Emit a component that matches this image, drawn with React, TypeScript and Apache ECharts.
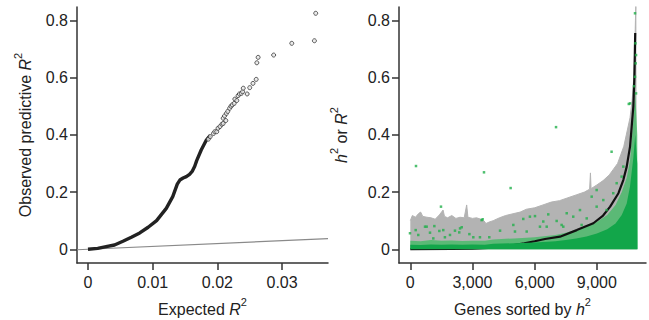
import React, { useEffect, useRef } from "react";
import * as echarts from "echarts";

// ---------- Left panel: QQ-style plot ----------
const leftXTicks = [0, 0.01, 0.02, 0.03];
const leftYTicks = [0, 0.2, 0.4, 0.6, 0.8];
// dense part of the observed curve (overlapping circles)
const denseX = [0, 0.0015, 0.0028, 0.0041, 0.0054, 0.0067, 0.008, 0.0093, 0.0106, 0.0121, 0.0131, 0.0138, 0.0142, 0.0147, 0.0152, 0.0157, 0.0161, 0.0165, 0.0168, 0.0175, 0.0183, 0.0189];
const denseY = [0, 0.003, 0.009, 0.015, 0.028, 0.042, 0.057, 0.077, 0.1, 0.143, 0.184, 0.228, 0.242, 0.249, 0.254, 0.262, 0.272, 0.29, 0.31, 0.347, 0.382, 0.398];
// sparse open circles in the upper tail
const circX = [0.0186, 0.0189, 0.0194, 0.0196, 0.0199, 0.0201, 0.0204, 0.0207, 0.0209, 0.0209, 0.0211, 0.0213, 0.0214, 0.0216, 0.0219, 0.0221, 0.0223, 0.0226, 0.0227, 0.023, 0.0232, 0.0234, 0.0237, 0.0239, 0.024, 0.0246, 0.025, 0.0255, 0.026, 0.0261, 0.0263, 0.0287, 0.0315, 0.035, 0.0352];
const circY = [0.385, 0.394, 0.405, 0.411, 0.411, 0.423, 0.429, 0.437, 0.44, 0.458, 0.466, 0.45, 0.475, 0.482, 0.493, 0.5, 0.505, 0.51, 0.525, 0.52, 0.537, 0.543, 0.545, 0.551, 0.563, 0.543, 0.565, 0.58, 0.594, 0.652, 0.671, 0.679, 0.72, 0.729, 0.825];
const diagX = [-0.0017, 0.0371];

// ---------- Right panel: genes sorted by h2 ----------
const rightXTicks = [0, 3000, 6000, 9000];
const rightYTicks = [0, 0.2, 0.4, 0.6, 0.8];
// upper edge of the grey interval bars
const grayGenes = [0, 100, 250, 400, 500, 600, 800, 1000, 1200, 1400, 1580, 1650, 1800, 2000, 2200, 2400, 2600, 2720, 2780, 3000, 3200, 3400, 3550, 3650, 3800, 4000, 4300, 4600, 5000, 5300, 5600, 6000, 6400, 6800, 7200, 7600, 8000, 8400, 8650, 8690, 8720, 9000, 9300, 9600, 9800, 10000, 10150, 10300, 10450, 10600, 10700, 10780, 10830, 10860, 10880, 10900];
const grayHi = [0.1, 0.118, 0.112, 0.125, 0.13, 0.115, 0.112, 0.11, 0.105, 0.12, 0.137, 0.115, 0.11, 0.118, 0.108, 0.112, 0.11, 0.155, 0.112, 0.108, 0.11, 0.105, 0.1, 0.09, 0.095, 0.1, 0.11, 0.118, 0.125, 0.13, 0.14, 0.145, 0.155, 0.165, 0.17, 0.18, 0.19, 0.2, 0.21, 0.267, 0.212, 0.225, 0.24, 0.26, 0.28, 0.3, 0.33, 0.36, 0.41, 0.46, 0.52, 0.6, 0.7, 0.8, 0.85, 0];
// upper edge of the solid green R2 band
const greenGenes = [0, 500, 1000, 1500, 2000, 2500, 3000, 3600, 4000, 5000, 6000, 7000, 7500, 8000, 8500, 9000, 9500, 9900, 10200, 10440, 10600, 10760, 10850, 10950, 10960];
const greenTop = [0.016, 0.015, 0.017, 0.016, 0.017, 0.016, 0.017, 0.016, 0.019, 0.021, 0.024, 0.028, 0.032, 0.038, 0.045, 0.055, 0.07, 0.09, 0.12, 0.16, 0.22, 0.32, 0.4, 0.3, 0];
// upper edge of the speckled green cloud
const cloudTop = [0.03, 0.028, 0.032, 0.03, 0.031, 0.029, 0.03, 0.03, 0.034, 0.038, 0.042, 0.05, 0.058, 0.068, 0.08, 0.095, 0.12, 0.155, 0.2, 0.25, 0.31, 0.45, 0.55, 0.4, 0];
// scattered individual green points
const greenPtGenes = [275, 3555, 4840, 1480, 7030, 9710, 10540, -15, 260, 710, 1160, 1400, 1590, 2155, 2480, 2360, 2850, 3360, 3440, 385, 950, 1670, 1915, 3040, 1110, 790, 2400, 3490, 5450, 5770, 6015, 6655, 6415, 7060, 4970, 4330, 5050, 6255, 6580, 7300, 3810, 5615, 8990, 8750, 9310, 9955, 10195, 10275, 9790, 8185, 7860, 7545, 8990, 8510, 9470, 7380, 8265, 10840, 10890, 10840, 10600, 10890, 10790, 10870, 10860];
const greenPtVals = [0.291, 0.269, 0.214, 0.149, 0.427, 0.341, 0.508, 0.056, 0.067, 0.079, 0.081, 0.064, 0.067, 0.065, 0.077, 0.059, 0.053, 0.042, 0.102, 0.05, 0.058, 0.042, 0.05, 0.042, 0.038, 0.079, 0.073, 0.105, 0.106, 0.114, 0.116, 0.122, 0.097, 0.099, 0.085, 0.065, 0.062, 0.079, 0.079, 0.085, 0.042, 0.062, 0.207, 0.184, 0.172, 0.231, 0.254, 0.289, 0.196, 0.137, 0.114, 0.126, 0.149, 0.108, 0.137, 0.079, 0.085, 0.825, 0.679, 0.603, 0.51, 0.545, 0.57, 0.65, 0.72];
// sorted h2 estimates (black)
const h2Genes = [0, 2000, 3000, 4000, 4500, 5000, 5500, 6000, 6500, 7220, 8030, 8830, 9300, 9640, 10040, 10275, 10440, 10600, 10680, 10760, 10810, 10835, 10850];
const h2Vals = [0, 0.001, 0.002, 0.006, 0.01, 0.015, 0.021, 0.028, 0.036, 0.044, 0.067, 0.091, 0.118, 0.149, 0.196, 0.242, 0.289, 0.359, 0.429, 0.5, 0.6, 0.7, 0.756];

const FONT = "Liberation Sans";
const AX = "#333";
const TXT = "#222";

function zip(a: number[], b: number[]) {
  return a.map((v, i) => [v, b[i]]);
}

function richName() {
  return {
    rich: {
      t: { fontSize: 16, lineHeight: 21, verticalAlign: "bottom", fontFamily: FONT, color: TXT },
      i: { fontSize: 16, lineHeight: 21, verticalAlign: "bottom", fontFamily: FONT, color: TXT, fontStyle: "italic" },
      s: { fontSize: 11, lineHeight: 11, verticalAlign: "top", fontFamily: FONT, color: TXT },
    },
  };
}

function axisCommon(ticks: number[], fmt: (v: number) => string, margin: number) {
  return {
    type: "value",
    splitLine: { show: false },
    axisLine: { show: true, onZero: false, lineStyle: { color: AX, width: 1.5 } },
    axisTick: { show: true, length: 7, customValues: ticks, lineStyle: { color: AX, width: 1.5 } },
    axisLabel: { customValues: ticks, formatter: fmt, fontSize: 16, color: TXT, fontFamily: FONT, margin },
    nameLocation: "middle",
  };
}

export default function App() {
  const ref = useRef<HTMLDivElement>(null);
  useEffect(() => {
    if (!ref.current) return;
    const chart = echarts.init(ref.current, undefined, { renderer: "svg" });
    const numFmt = (v: number) => (v === 0 ? "0" : String(v));
    const thouFmt = (v: number) => v.toLocaleString("en-US");
    chart.setOption({
      animation: false,
      backgroundColor: "#fff",
      grid: [
        { left: 77, top: 7, width: 251, height: 256, containLabel: false, outerBoundsMode: "none" },
        { left: 399, top: 7, width: 247, height: 256, containLabel: false, outerBoundsMode: "none" },
      ],
      xAxis: [
        {
          ...axisCommon(leftXTicks, numFmt, 11),
          gridIndex: 0,
          min: -0.0017,
          max: 0.0371,
          name: "{t|Expected }{i|R}{s|2}",
          nameGap: 33,
          nameTextStyle: richName(),
        },
        {
          ...axisCommon(rightXTicks, thouFmt, 11),
          gridIndex: 1,
          min: -545,
          max: 11370,
          name: "{t|Genes sorted by }{i|h}{s|2}",
          nameGap: 33,
          nameTextStyle: richName(),
        },
      ],
      yAxis: [
        {
          ...axisCommon(leftYTicks, numFmt, 9),
          gridIndex: 0,
          min: -0.048,
          max: 0.847,
          name: "{t|Observed predictive }{i|R}{s|2}",
          nameGap: 44,
          nameTextStyle: richName(),
        },
        {
          ...axisCommon(rightYTicks, numFmt, 9),
          gridIndex: 1,
          min: -0.048,
          max: 0.847,
          name: "{i|h}{s|2}{t| or }{i|R}{s|2}",
          nameGap: 50,
          nameTextStyle: richName(),
        },
      ],
      series: [
        {
          type: "line",
          xAxisIndex: 0,
          yAxisIndex: 0,
          data: diagX.map((v) => [v, v]),
          symbol: "none",
          lineStyle: { color: "#8a8a8a", width: 1.2 },
          z: 1,
        },
        {
          type: "line",
          xAxisIndex: 0,
          yAxisIndex: 0,
          data: zip(denseX, denseY),
          symbol: "none",
          lineStyle: { color: "#222", width: 3.4 },
          z: 2,
        },
        {
          type: "scatter",
          xAxisIndex: 0,
          yAxisIndex: 0,
          data: zip(circX, circY),
          symbol: "circle",
          symbolSize: 4,
          itemStyle: { color: "#e6e6e6", borderColor: "#333", borderWidth: 1 },
          z: 3,
        },
        {
          type: "line",
          xAxisIndex: 1,
          yAxisIndex: 1,
          data: zip(grayGenes, grayHi),
          symbol: "none",
          lineStyle: { color: "#b3b3b3", width: 1 },
          areaStyle: { color: "#b3b3b3", opacity: 1 },
          z: 1,
        },
        {
          type: "line",
          xAxisIndex: 1,
          yAxisIndex: 1,
          data: zip(greenGenes, cloudTop),
          symbol: "none",
          lineStyle: { width: 0 },
          areaStyle: { color: "#3dbb62", opacity: 0.75 },
          z: 2,
        },
        {
          type: "line",
          xAxisIndex: 1,
          yAxisIndex: 1,
          data: zip(h2Genes, h2Vals),
          symbol: "none",
          lineStyle: { color: "#111", width: 2.2 },
          z: 3,
        },
        {
          type: "line",
          xAxisIndex: 1,
          yAxisIndex: 1,
          data: zip(greenGenes, greenTop),
          symbol: "none",
          lineStyle: { width: 0 },
          areaStyle: { color: "#12a64a", opacity: 1 },
          z: 4,
        },
        {
          type: "scatter",
          xAxisIndex: 1,
          yAxisIndex: 1,
          data: zip(greenPtGenes, greenPtVals),
          symbol: "rect",
          symbolSize: 2.5,
          itemStyle: { color: "#22b04b" },
          z: 5,
        },
      ],
    });
    return () => chart.dispose();
  }, []);
  return (
    <div
      ref={ref}
      style={{ position: "fixed", left: 0, top: 0, width: 649, height: 320, background: "#fff" }}
    />
  );
}
